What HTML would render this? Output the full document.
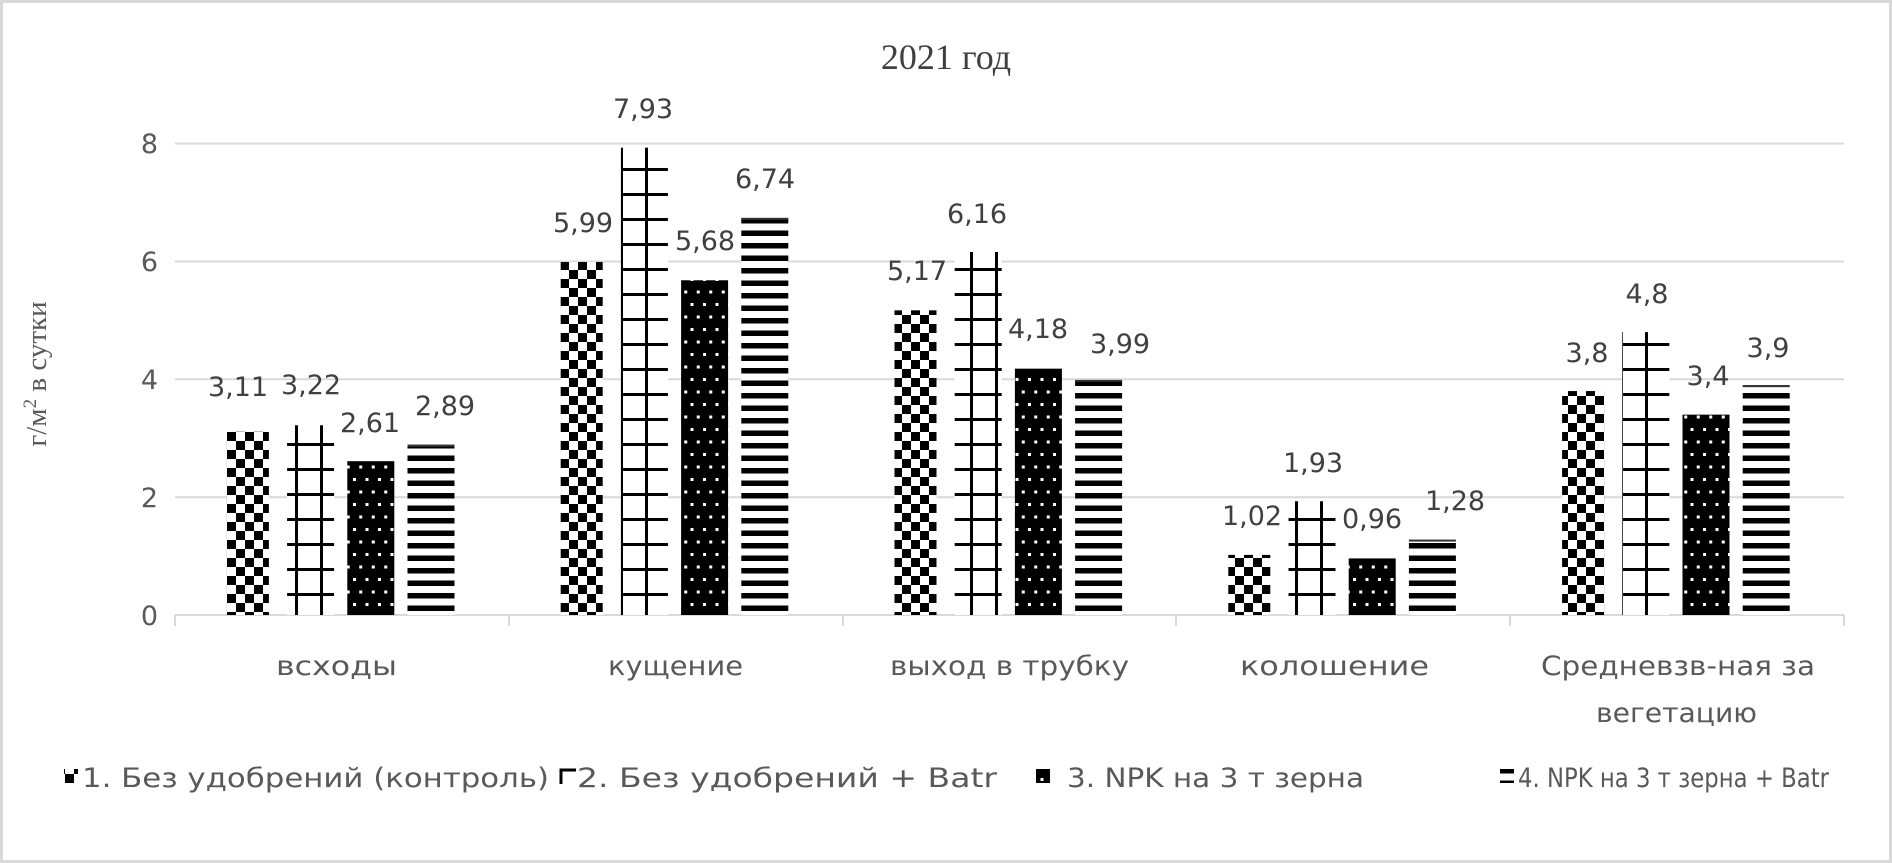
<!DOCTYPE html>
<html><head><meta charset="utf-8"><style>
html,body{margin:0;padding:0;background:#fff;}
svg{display:block;}
</style></head><body>
<svg width="1892" height="863" viewBox="0 0 1892 863" xmlns="http://www.w3.org/2000/svg">
<defs>
<pattern id="chk" width="18" height="18" patternUnits="userSpaceOnUse" x="227" y="0">
<rect width="18" height="18" fill="#fff"/><rect width="9" height="9" fill="#000"/><rect x="9" y="9" width="9" height="9" fill="#000"/>
</pattern>
<pattern id="dot" width="12.5" height="25" patternUnits="userSpaceOnUse">
<rect width="12.5" height="25" fill="#000"/><rect x="3" y="3" width="3" height="3" fill="#fff"/><rect x="9.25" y="15.5" width="3" height="3" fill="#fff"/>
</pattern>
<pattern id="str" width="20" height="12.5" patternUnits="userSpaceOnUse">
<rect width="20" height="12.5" fill="#fff"/><rect y="5.5" width="20" height="5.5" fill="#000"/>
</pattern>
<pattern id="lad" width="25" height="25" patternUnits="userSpaceOnUse">
<rect width="25" height="25" fill="#fff"/><rect x="20" y="0" width="3" height="25" fill="#000"/><rect x="0" y="18" width="25" height="3" fill="#000"/>
</pattern>
</defs>
<rect x="1.5" y="1.5" width="1889" height="860" fill="#fff" stroke="#d9d9d9" stroke-width="3"/>
<text x="946" y="69" font-family="Liberation Serif,serif" font-size="36" fill="#404040" text-anchor="middle">2021 год</text>
<g stroke="#d9d9d9" stroke-width="2">
<line x1="175" y1="143.6" x2="1844" y2="143.6"/>
<line x1="175" y1="261.5" x2="1844" y2="261.5"/>
<line x1="175" y1="379.3" x2="1844" y2="379.3"/>
<line x1="175" y1="497.2" x2="1844" y2="497.2"/>
<line x1="175" y1="615" x2="1844" y2="615"/>
<line x1="175" y1="615" x2="175" y2="626"/><line x1="509" y1="615" x2="509" y2="626"/><line x1="843" y1="615" x2="843" y2="626"/><line x1="1176" y1="615" x2="1176" y2="626"/><line x1="1510" y1="615" x2="1510" y2="626"/><line x1="1844" y1="615" x2="1844" y2="626"/>
</g>
<g font-family="DejaVu Sans,sans-serif" font-size="27" fill="#595959" text-anchor="end">
<text x="158" y="153">8</text><text x="158" y="271">6</text><text x="158" y="389">4</text><text x="158" y="507">2</text><text x="158" y="625">0</text>
</g>
<text transform="translate(46,374) rotate(-90)" font-family="Liberation Serif,serif" font-size="29" fill="#595959" text-anchor="middle">г/м<tspan dy="-10" font-size="19">2</tspan><tspan dy="10"> в сутки</tspan></text>
<g id="bars"></g>
<g font-family="DejaVu Sans,sans-serif" font-size="27" fill="#595959">
<text x="276" y="675" textLength="121" lengthAdjust="spacingAndGlyphs">всходы</text>
<text x="608" y="675" textLength="135" lengthAdjust="spacingAndGlyphs">кущение</text>
<text x="890" y="675" textLength="239" lengthAdjust="spacingAndGlyphs">выход в трубку</text>
<text x="1240" y="675" textLength="189" lengthAdjust="spacingAndGlyphs">колошение</text>
<text x="1541" y="675" textLength="274" lengthAdjust="spacingAndGlyphs">Средневзв-ная за</text>
<text x="1596" y="722" textLength="161" lengthAdjust="spacingAndGlyphs">вегетацию</text>
</g>
<g font-family="DejaVu Sans,sans-serif" font-size="27" fill="#595959">
<rect x="64" y="769" width="14" height="14" fill="url(#chk)"/>
<text x="82" y="787" textLength="467" lengthAdjust="spacingAndGlyphs">1. Без удобрений (контроль)</text>
<path d="M561 784 V770 H576" stroke="#000" stroke-width="3" fill="none"/>
<text x="577" y="787" textLength="420" lengthAdjust="spacingAndGlyphs">2. Без удобрений + Batr</text>
<rect x="1036" y="769" width="14" height="14" fill="url(#dot)"/>
<text x="1067" y="787" textLength="297" lengthAdjust="spacingAndGlyphs">3. NPK на 3 т зерна</text>
<rect x="1500" y="769" width="14" height="14" fill="url(#str)"/>
<text x="1518" y="787" textLength="311" lengthAdjust="spacingAndGlyphs">4. NPK на 3 т зерна + Batr</text>
</g>
<g id="labels" font-family="DejaVu Sans,sans-serif" font-size="27" fill="#404040" text-anchor="middle"></g>
<script>
(function(){
var ns="http://www.w3.org/2000/svg";
var data=[[3.11,3.22,2.61,2.89],[5.99,7.93,5.68,6.74],[5.17,6.16,4.18,3.99],[1.02,1.93,0.96,1.28],[3.8,4.8,3.4,3.9]];
var lab=[["3,11",238,386],["3,22",311,384],["2,61",370,422],["2,89",445,405],
["5,99",583,222],["7,93",643,108],["5,68",705,240],["6,74",765,178],
["5,17",917,270],["6,16",977,213],["4,18",1038,328],["3,99",1120,343],
["1,02",1252,515],["1,93",1313,462],["0,96",1372,518],["1,28",1455,500],
["3,8",1587,352],["4,8",1647,293],["3,4",1708,375],["3,9",1768,347]];
var g=document.getElementById("bars");
function el(t,a){var e=document.createElementNS(ns,t);for(var k in a)e.setAttribute(k,a[k]);g.appendChild(e);return e;}
for(var i=0;i<5;i++){var c=175+333.8*(i+0.5);
for(var j=0;j<4;j++){var x=c-115+j*60.2,w=47,v=data[i][j],ty=615-v*58.93,h=615-ty;
if(j==0)el("rect",{x:x,y:ty,width:42,height:h,fill:"url(#chk)"});
else if(j==1)el("rect",{x:x,y:ty,width:w,height:h,fill:"url(#lad)"});
else if(j==2)el("rect",{x:x,y:ty,width:w,height:h,fill:"url(#dot)"});
else {el("rect",{x:x,y:ty,width:w,height:h,fill:"url(#str)"});el("rect",{x:x,y:ty,width:w,height:2,fill:"#333"});}
}}
var L=document.getElementById("labels");
lab.forEach(function(l){var t=document.createElementNS(ns,"text");t.setAttribute("x",l[1]);t.setAttribute("y",l[2]+10);t.textContent=l[0];L.appendChild(t);});
})();
</script>
</svg>
</body></html>
